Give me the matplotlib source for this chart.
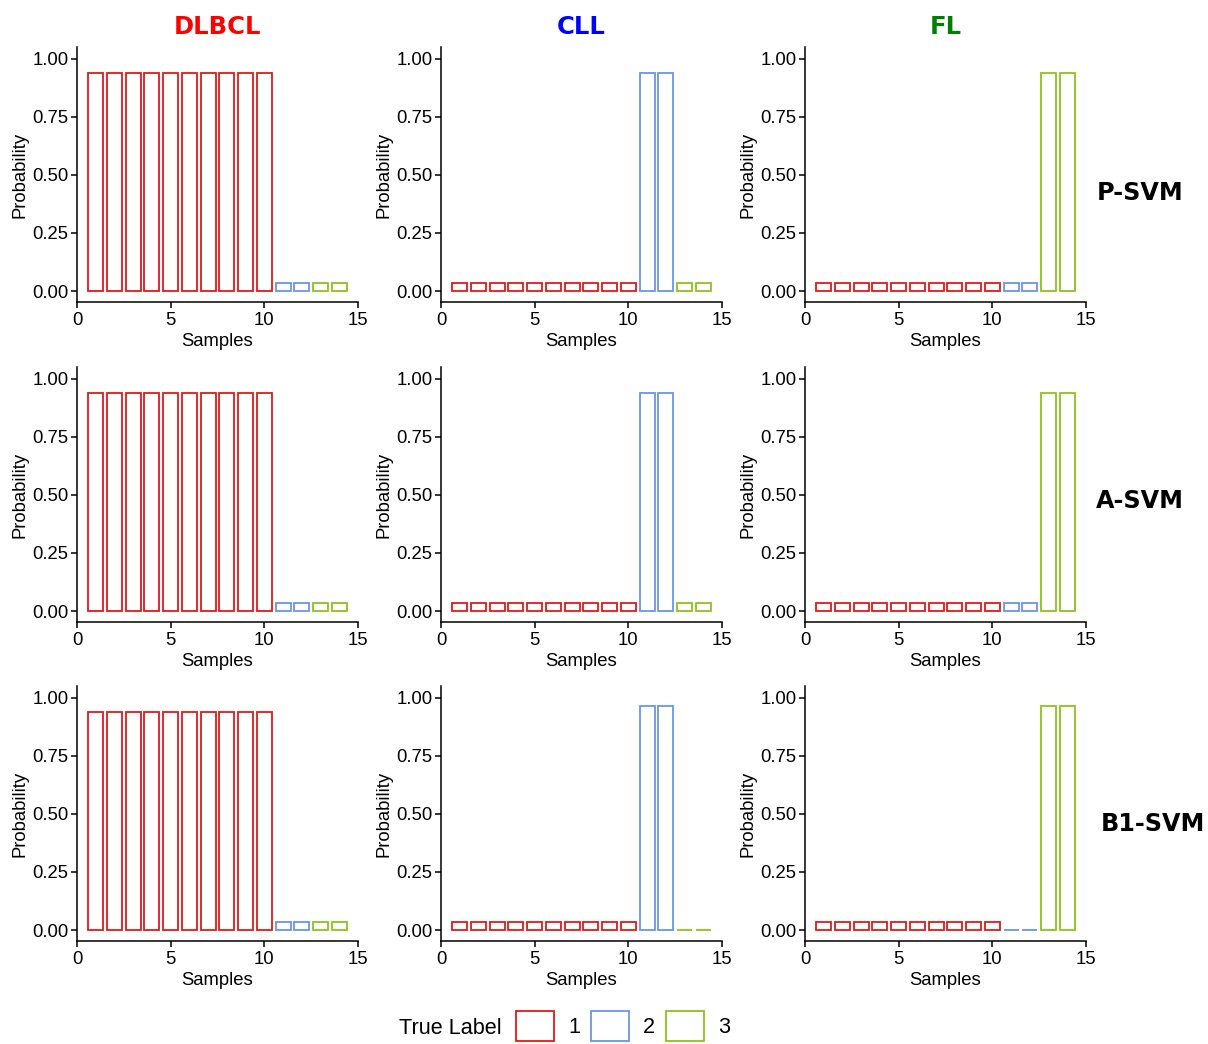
import matplotlib.pyplot as plt
from matplotlib.patches import Patch

plt.rcParams['font.family'] = ['Liberation Sans', 'DejaVu Sans']

samples = [1, 2, 3, 4, 5, 6, 7, 8, 9, 10, 11, 12, 13, 14]
true_label = [1, 1, 1, 1, 1, 1, 1, 1, 1, 1, 2, 2, 3, 3]

classes = ['DLBCL', 'CLL', 'FL']
class_colors = ['#FF0000', '#0000FF', '#008000']
models = ['P-SVM', 'A-SVM', 'B1-SVM']
label_colors = {1: '#E0191C', 2: '#6A96E8', 3: '#8CC21E'}

# probabilities per model (rows) and class (columns)
p_svm_dlbcl = [0.94, 0.94, 0.94, 0.94, 0.94, 0.94, 0.94, 0.94, 0.94, 0.94, 0.034, 0.034, 0.034, 0.034]
p_svm_cll = [0.034, 0.034, 0.034, 0.034, 0.034, 0.034, 0.034, 0.034, 0.034, 0.034, 0.94, 0.94, 0.034, 0.034]
p_svm_fl = [0.034, 0.034, 0.034, 0.034, 0.034, 0.034, 0.034, 0.034, 0.034, 0.034, 0.034, 0.034, 0.94, 0.94]

a_svm_dlbcl = [0.94, 0.94, 0.94, 0.94, 0.94, 0.94, 0.94, 0.94, 0.94, 0.94, 0.034, 0.034, 0.034, 0.034]
a_svm_cll = [0.034, 0.034, 0.034, 0.034, 0.034, 0.034, 0.034, 0.034, 0.034, 0.034, 0.94, 0.94, 0.034, 0.034]
a_svm_fl = [0.034, 0.034, 0.034, 0.034, 0.034, 0.034, 0.034, 0.034, 0.034, 0.034, 0.034, 0.034, 0.94, 0.94]

b1_svm_dlbcl = [0.94, 0.94, 0.94, 0.94, 0.94, 0.94, 0.94, 0.94, 0.94, 0.94, 0.034, 0.034, 0.034, 0.034]
b1_svm_cll = [0.034, 0.034, 0.034, 0.034, 0.034, 0.034, 0.034, 0.034, 0.034, 0.034, 0.966, 0.966, 0.0, 0.0]
b1_svm_fl = [0.034, 0.034, 0.034, 0.034, 0.034, 0.034, 0.034, 0.034, 0.034, 0.034, 0.0, 0.0, 0.966, 0.966]

probs = [
    [p_svm_dlbcl, p_svm_cll, p_svm_fl],
    [a_svm_dlbcl, a_svm_cll, a_svm_fl],
    [b1_svm_dlbcl, b1_svm_cll, b1_svm_fl],
]

W, H = 1208, 1044
fig = plt.figure(figsize=(W / 100, H / 100), dpi=100)

col_left = [77, 441, 805]
col_w = 281
row_top = [47, 367, 686]
row_h = 255

edge_cols = [label_colors[l] for l in true_label]

for r in range(3):
    for c in range(3):
        ax = fig.add_axes([col_left[c] / W, 1 - (row_top[r] + row_h) / H, col_w / W, row_h / H])
        ax.bar(samples, probs[r][c], width=0.8, facecolor='white',
               edgecolor=edge_cols, linewidth=1.3)
        ax.set_xlim(0, 15)
        ax.set_ylim(-0.047, 1.05)
        ax.set_xticks([0, 5, 10, 15])
        ax.set_yticks([0, 0.25, 0.5, 0.75, 1.0])
        ax.set_yticklabels(['0.00', '0.25', '0.50', '0.75', '1.00'])
        ax.spines['top'].set_visible(False)
        ax.spines['right'].set_visible(False)
        ax.spines['left'].set_linewidth(1.1)
        ax.spines['bottom'].set_linewidth(1.1)
        ax.tick_params(labelsize=13.3, length=4, width=1.1, pad=2, colors='black')
        ax.tick_params(axis='x', pad=3.5)
        ax.set_xlabel('Samples', fontsize=13.3, labelpad=2.5)
        ax.set_ylabel('Probability', fontsize=13.3, labelpad=3)
        if r == 0:
            ax.set_title(classes[c], color=class_colors[c], fontsize=17.5,
                         fontweight='bold', family='DejaVu Sans', pad=9)

row_label_x = [1140, 1140, 1153]
row_label_y = [193, 501, 824]
for r in range(3):
    fig.text(row_label_x[r] / W, 1 - row_label_y[r] / H, models[r], fontsize=17.2,
             fontweight='bold', family='DejaVu Sans', ha='center', va='center')

# legend
handles = [Patch(facecolor='white', edgecolor=label_colors[k], linewidth=1.3) for k in [1, 2, 3]]
fig.text(450 / W, 1 - 1029 / H, 'True Label', fontsize=15.6, ha='center', va='center')
fig.legend(handles, ['1', '2', '3'], ncol=3, frameon=False, fontsize=15.6,
           loc='center left', bbox_to_anchor=(516 / W, 1 - 1026 / H),
           borderpad=0, borderaxespad=0,
           handlelength=1.75, handleheight=1.75, columnspacing=0.5, handletextpad=0.65)

plt.savefig('out.png', dpi=100)
plt.close()
